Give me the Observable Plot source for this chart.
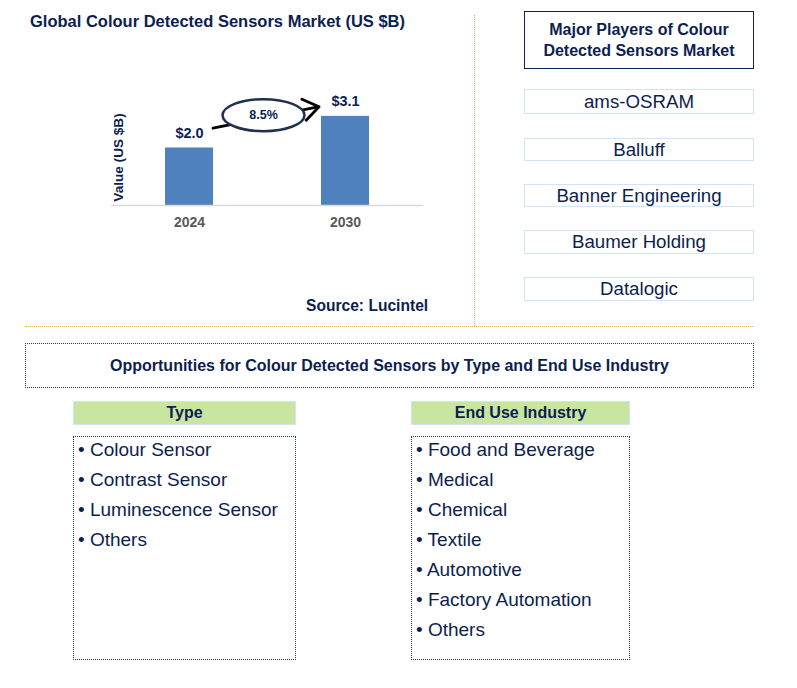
<!DOCTYPE html>
<html>
<head>
<meta charset="utf-8">
<script src="https://cdn.jsdelivr.net/npm/d3@7"></script>
<script src="https://cdn.jsdelivr.net/npm/@observablehq/plot@0.6"></script>
<style>
  html, body { margin: 0; padding: 0; background: #fff; }
  body { font-family: "Liberation Sans", Arial, sans-serif; color: #0d1e50; }
  #page { position: relative; width: 797px; height: 688px; overflow: hidden; background: #fff; }
  .abs { position: absolute; box-sizing: border-box; }
  .title { left: 30px; top: 12px; font-size: 16.5px; font-weight: bold; white-space: nowrap; }
  .source { left: 306px; top: 297px; font-size: 15.6px; font-weight: bold; white-space: nowrap; }
  .vline { left: 474px; top: 15px; width: 0; height: 311px; border-left: 1px dotted #f2b705; }
  .hline { left: 25px; top: 326px; width: 728px; height: 0; border-top: 1px dotted #f2b705; }
  .phead { left: 524px; top: 11px; width: 230px; height: 58px; border: 1.5px solid #0f2257;
           font-size: 16px; font-weight: bold; text-align: center; line-height: 21px; padding-top: 7px; }
  .player { left: 524px; width: 230px; border: 1.5px solid #cfe5f6; font-size: 18.7px; text-align: center;
            display: flex; align-items: center; justify-content: center; }
  .opp { left: 25px; top: 343px; width: 729px; height: 45px; border: 1px dotted #1f3864;
         font-size: 16px; font-weight: bold; display: flex; align-items: center; justify-content: center; }
  .ghead { top: 401px; height: 24px; background: #c8e6a2; border: 1.5px solid #cfe5f6;
           font-size: 16px; font-weight: bold; display: flex; align-items: center; justify-content: center; }
  .glist { top: 436px; height: 224px; border: 1px dotted #1f3864; padding: 0 0 0 4px; }
  .glist .item:first-child { margin-top: -2px; }
  .item { font-size: 19px; height: 30px; line-height: 30px; white-space: nowrap; }
</style>
</head>
<body>
<div id="page"></div>
<script>
// ---- data ----
const years = ["2024", "2030"];
const values = [2.0, 3.1];
const cagr = "8.5%";
const chartTitle = "Global Colour Detected Sensors Market (US $B)";
const yLabel = "Value (US $B)";
const sourceText = "Source: Lucintel";
const playersTitle = ["Major Players of Colour", "Detected Sensors Market"];
const players = ["ams-OSRAM", "Balluff", "Banner Engineering", "Baumer Holding", "Datalogic"];
const oppTitle = "Opportunities for Colour Detected Sensors by Type and End Use Industry";
const typeTitle = "Type";
const types = ["Colour Sensor", "Contrast Sensor", "Luminescence Sensor", "Others"];
const endUseTitle = "End Use Industry";
const endUses = ["Food and Beverage", "Medical", "Chemical", "Textile", "Automotive", "Factory Automation", "Others"];

const navy = "#0d1e50";
const page = document.getElementById("page");
function el(cls, text, style) {
  const d = document.createElement("div");
  d.className = "abs " + cls;
  if (text != null) d.textContent = text;
  if (style) Object.assign(d.style, style);
  page.appendChild(d);
  return d;
}

// ---- chart ----
const bars = years.map((year, i) => ({year, value: values[i]}));
const ellipse = {
  draw(ctx, size) {
    const ry = Math.sqrt(size / Math.PI), rx = ry * 2.56, k = 0.5523;
    ctx.moveTo(rx, 0);
    ctx.bezierCurveTo(rx, ry * k, rx * k, ry, 0, ry);
    ctx.bezierCurveTo(-rx * k, ry, -rx, ry * k, -rx, 0);
    ctx.bezierCurveTo(-rx, -ry * k, -rx * k, -ry, 0, -ry);
    ctx.bezierCurveTo(rx * k, -ry, rx, -ry * k, rx, 0);
    ctx.closePath();
  }
};
const chart = Plot.plot({
  width: 480, height: 330,
  marginLeft: 111, marginRight: 57, marginTop: 90, marginBottom: 125,
  x: {domain: years, paddingInner: 0.692, paddingOuter: 0.346},
  y: {domain: [0, 4], axis: null},
  style: {fontFamily: "'Liberation Sans', Arial, sans-serif", background: "transparent", overflow: "visible"},
  marks: [
    Plot.barY(bars, {x: "year", y: "value", fill: "#4f81bd"}),
    Plot.ruleY([0], {stroke: "#d9d9d9", strokeWidth: 1.5}),
    Plot.axisX({tickSize: 0, tickPadding: 12, fontSize: 14, fontWeight: "bold", fill: "#595959", label: null}),
    Plot.text(bars, {x: "year", y: "value", text: d => "$" + d.value.toFixed(1), dy: -15,
      fontSize: 14.5, fontWeight: "bold", fill: navy}),
    Plot.arrow([{a: years[0], b: years[1], ya: values[0], yb: values[1]}],
      {x1: "a", x2: "b", y1: "ya", y2: "yb", dy: -15, insetStart: 24, insetEnd: 27,
       stroke: "#000", strokeWidth: 2.8, headLength: 10, headAngle: 70}),
    Plot.dot([(values[0] + values[1]) / 2], {y: d => d, frameAnchor: "middle", dx: -4, dy: -17, r: 16,
      symbol: ellipse, fill: "#fff", stroke: "#1f3050", strokeWidth: 2.5}),
    Plot.text([cagr], {y: () => (values[0] + values[1]) / 2, frameAnchor: "middle", dx: -4, dy: -17, text: d => d,
      fontSize: 12.5, fontWeight: "bold", fill: navy}),
    Plot.text([yLabel], {frameAnchor: "left", textAnchor: "middle", rotate: -90, dx: 7, dy: 9.5, text: d => d,
      fontSize: 13.6, fontWeight: "bold", fill: navy})
  ]
});
chart.style.position = "absolute";
chart.style.left = "0px";
chart.style.top = "0px";
page.appendChild(chart);

el("title", chartTitle);
el("source", sourceText);
el("vline");
el("hline");

// ---- players ----
const ph = el("phead");
ph.innerHTML = playersTitle.join("<br>");
const playerTops = [89, 138, 184, 230, 277];
const playerHeights = [25, 23, 23, 24, 24];
players.forEach((p, i) => el("player", p, {top: playerTops[i] + "px", height: playerHeights[i] + "px"}));

// ---- opportunities ----
el("opp", oppTitle);
el("ghead", typeTitle, {left: "73px", width: "223px"});
el("ghead", endUseTitle, {left: "411px", width: "219px"});
const tl = el("glist", null, {left: "73px", width: "223px"});
types.forEach(t => { const d = document.createElement("div"); d.className = "item"; d.textContent = "\u2022 " + t; tl.appendChild(d); });
const el2 = el("glist", null, {left: "411px", width: "219px"});
endUses.forEach(t => { const d = document.createElement("div"); d.className = "item"; d.textContent = "\u2022 " + t; el2.appendChild(d); });
</script>
</body>
</html>
